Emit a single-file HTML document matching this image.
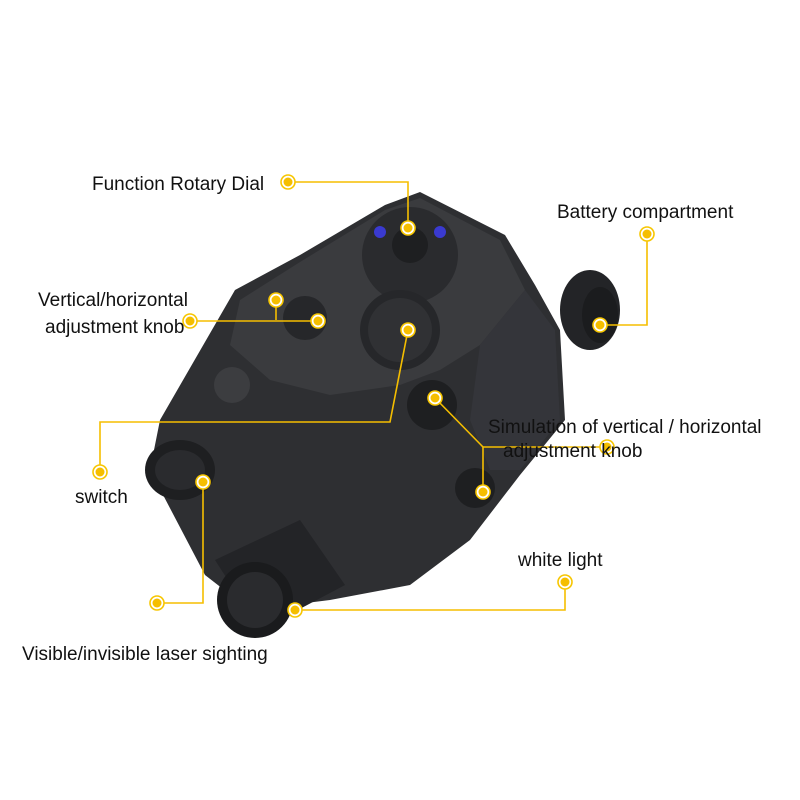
<!DOCTYPE html>
<html><head><meta charset="utf-8"><style>
html,body{margin:0;padding:0;background:#fff;}
svg{display:block}
text{font-family:"Liberation Sans",sans-serif;font-size:19px;fill:#111}
</style></head><body>
<svg width="800" height="800" viewBox="0 0 800 800" xmlns="http://www.w3.org/2000/svg">
<defs>
<g id="d"><circle r="7" fill="#fff" stroke="#f7c600" stroke-width="1.6"/><circle r="4.5" fill="#f5be00"/></g>
</defs>
<rect width="800" height="800" fill="#fff"/>
<g>
<polygon points="160,420 235,290 300,255 385,205 420,192 505,235 535,285 560,330 565,420 520,475 470,540 410,585 330,600 250,610 205,575 150,470" fill="#2e2f32"/>
<polygon points="240,300 300,262 385,210 420,198 500,240 525,290 480,345 440,370 400,385 330,395 270,380 230,345" fill="#3a3b3e"/>
<polygon points="480,345 525,290 555,330 560,420 520,470 490,470 470,420" fill="#34353a"/>
<ellipse cx="590" cy="310" rx="30" ry="40" fill="#232427"/>
<ellipse cx="600" cy="315" rx="18" ry="28" fill="#1b1c1e"/>
<circle cx="410" cy="255" r="48" fill="#2a2b2e"/>
<circle cx="410" cy="245" r="18" fill="#1e1f21"/>
<circle cx="380" cy="232" r="6" fill="#3a3ad0"/>
<circle cx="440" cy="232" r="6" fill="#3a3ad0"/>
<circle cx="400" cy="330" r="40" fill="#26272a"/>
<circle cx="400" cy="330" r="32" fill="#303134"/>
<circle cx="305" cy="318" r="22" fill="#26272a"/>
<circle cx="232" cy="385" r="18" fill="#3c3d40"/>
<circle cx="432" cy="405" r="25" fill="#1e1f21"/>
<circle cx="475" cy="488" r="20" fill="#1e1f21"/>
<ellipse cx="180" cy="470" rx="35" ry="30" fill="#1e1f21"/>
<ellipse cx="180" cy="470" rx="25" ry="20" fill="#2a2b2e"/>
<polygon points="215,560 300,520 345,585 260,630" fill="#232427"/>
<ellipse cx="255" cy="600" rx="38" ry="38" fill="#1a1b1d"/>
<ellipse cx="255" cy="600" rx="28" ry="28" fill="#2a2b2e"/>
</g>
<g stroke="#f5be00" stroke-width="1.6" fill="none">
<polyline points="288,182 408,182 408,228"/>
<polyline points="647,234 647,325 600,325"/>
<polyline points="190,321 318,321"/>
<polyline points="276,300 276,320"/>
<polyline points="100,472 100,422 390,422 408,330"/>
<polyline points="607,447 483,447 483,492"/>
<polyline points="435,398 483,447"/>
<polyline points="565,582 565,610 295,610"/>
<polyline points="157,603 203,603 203,482"/>
</g>
<use href="#d" x="288" y="182"/>
<use href="#d" x="408" y="228"/>
<use href="#d" x="647" y="234"/>
<use href="#d" x="600" y="325"/>
<use href="#d" x="190" y="321"/>
<use href="#d" x="318" y="321"/>
<use href="#d" x="276" y="300"/>
<use href="#d" x="100" y="472"/>
<use href="#d" x="408" y="330"/>
<use href="#d" x="435" y="398"/>
<use href="#d" x="607" y="447"/>
<use href="#d" x="483" y="492"/>
<use href="#d" x="565" y="582"/>
<use href="#d" x="295" y="610"/>
<use href="#d" x="157" y="603"/>
<use href="#d" x="203" y="482"/>
<text x="92" y="190">Function Rotary Dial</text>
<text x="557" y="218">Battery compartment</text>
<text x="38" y="306">Vertical/horizontal</text>
<text x="45" y="333">adjustment knob</text>
<text x="488" y="433">Simulation of vertical / horizontal</text>
<text x="503" y="457">adjustment knob</text>
<text x="75" y="503">switch</text>
<text x="518" y="566">white light</text>
<text x="22" y="660">Visible/invisible laser sighting</text>
</svg>
</body></html>
